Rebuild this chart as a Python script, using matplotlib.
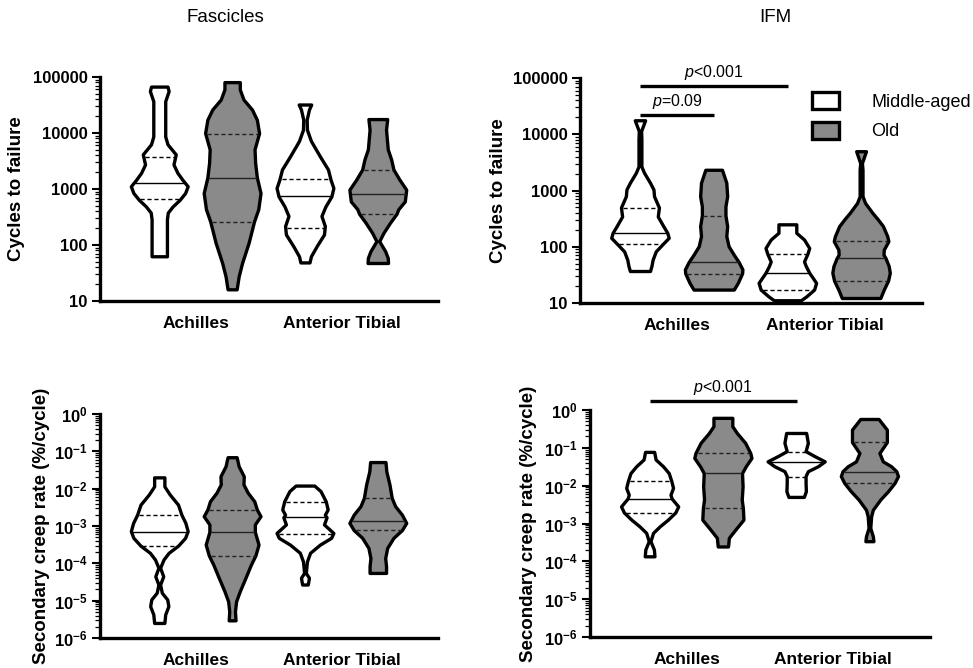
import numpy as np
from matplotlib import pyplot as plt
from matplotlib.patches import Patch
from matplotlib.ticker import LogLocator, NullFormatter

plt.rcParams['font.family'] = ['Liberation Sans', 'DejaVu Sans']
plt.rcParams['mathtext.fontset'] = 'custom'
plt.rcParams['mathtext.rm'] = 'Liberation Sans'
plt.rcParams['mathtext.it'] = 'Liberation Sans:italic'
plt.rcParams['mathtext.bf'] = 'Liberation Sans:bold'

categories = ['Achilles', 'Anterior Tibial']
ages = ['Middle-aged', 'Old']

# violin outlines: (log10 value, relative half-width), top to bottom
# order in each panel: Achilles middle-aged, Achilles old, AT middle-aged, AT old
fas_cyc_ach_ma = [(4.82, 0.29), (4.74, 0.33), (4.56, 0.21), (3.93, 0.21), (3.79, 0.29), (3.61, 0.58),
                  (3.43, 0.50), (3.28, 0.64), (3.16, 0.81), (3.04, 1.00), (2.92, 0.91), (2.80, 0.72),
                  (2.68, 0.47), (2.57, 0.30), (2.45, 0.27), (1.79, 0.27)]
fas_cyc_ach_old = [(4.90, 0.27), (4.77, 0.27), (4.59, 0.40), (4.41, 0.70), (4.23, 0.87), (3.99, 0.95),
                   (3.70, 0.79), (3.46, 0.81), (3.20, 0.87), (2.92, 1.00), (2.63, 0.92), (2.41, 0.77),
                   (2.03, 0.58), (1.67, 0.35), (1.43, 0.23), (1.20, 0.16)]
fas_cyc_at_ma = [(4.50, 0.22), (4.41, 0.14), (4.23, 0.06), (4.05, 0.07), (3.85, 0.21), (3.58, 0.52),
                 (3.34, 0.81), (3.16, 0.90), (3.01, 1.00), (2.86, 0.93), (2.68, 0.72), (2.51, 0.58),
                 (2.33, 0.70), (2.18, 0.67), (1.97, 0.41), (1.79, 0.21), (1.68, 0.16)]
fas_cyc_at_old = [(4.24, 0.33), (4.05, 0.29), (3.70, 0.35), (3.52, 0.47), (3.34, 0.55), (3.16, 0.76),
                  (2.98, 1.00), (2.77, 0.95), (2.63, 0.72), (2.55, 0.66), (2.39, 0.43), (2.21, 0.20),
                  (2.06, 0.05), (1.88, 0.26), (1.76, 0.35), (1.67, 0.36)]

ifm_cyc_ach_ma = [(4.24, 0.18), (4.05, 0.04), (3.90, 0.05), (3.42, 0.05), (3.31, 0.14), (3.13, 0.35),
                  (3.01, 0.47), (2.89, 0.49), (2.69, 0.66), (2.53, 0.62), (2.36, 0.81), (2.24, 0.95),
                  (2.15, 1.00), (2.05, 0.81), (1.91, 0.55), (1.76, 0.44), (1.65, 0.40), (1.56, 0.35)]
ifm_cyc_ach_old = [(3.36, 0.29), (3.13, 0.44), (2.89, 0.47), (2.71, 0.41), (2.55, 0.41), (2.36, 0.47),
                   (2.18, 0.44), (2.00, 0.52), (1.85, 0.70), (1.72, 0.87), (1.59, 1.00), (1.52, 0.99),
                   (1.35, 0.84), (1.23, 0.70)]
ifm_cyc_at_ma = [(2.39, 0.31), (2.24, 0.31), (2.12, 0.58), (1.97, 0.76), (1.87, 0.70), (1.73, 0.58),
                 (1.65, 0.64), (1.53, 0.76), (1.35, 1.00), (1.23, 0.93), (1.11, 0.66), (1.04, 0.47)]
ifm_cyc_at_old = [(3.69, 0.17), (3.48, 0.03), (3.36, 0.05), (2.89, 0.05), (2.77, 0.14), (2.59, 0.40),
                  (2.48, 0.58), (2.36, 0.76), (2.18, 0.91), (2.09, 0.95), (1.94, 0.79), (1.85, 0.78),
                  (1.79, 0.85), (1.65, 0.96), (1.53, 1.00), (1.39, 0.94), (1.23, 0.79), (1.08, 0.67)]

fas_crp_ach_ma = [(-1.71, 0.18), (-1.95, 0.18), (-2.17, 0.37), (-2.44, 0.66), (-2.71, 0.78), (-2.93, 0.92),
                  (-3.15, 1.00), (-3.33, 0.91), (-3.54, 0.66), (-3.73, 0.33), (-3.91, 0.15), (-4.13, 0.03),
                  (-4.36, 0.14), (-4.58, 0.03), (-4.80, 0.09), (-4.98, 0.28), (-5.16, 0.32), (-5.38, 0.21),
                  (-5.61, 0.18)]
fas_crp_ach_old = [(-1.17, 0.16), (-1.41, 0.23), (-1.68, 0.41), (-1.90, 0.40), (-2.12, 0.55), (-2.35, 0.78),
                   (-2.57, 0.87), (-2.75, 1.00), (-2.97, 0.80), (-3.17, 0.80), (-3.51, 0.93), (-3.80, 0.82),
                   (-4.05, 0.66), (-4.40, 0.47), (-4.76, 0.27), (-5.03, 0.14), (-5.30, 0.10), (-5.54, 0.12)]
fas_crp_at_ma = [(-1.93, 0.33), (-2.08, 0.55), (-2.35, 0.73), (-2.57, 0.80), (-2.71, 0.70), (-2.78, 0.76),
                 (-2.97, 0.67), (-3.20, 1.00), (-3.33, 0.92), (-3.51, 0.53), (-3.73, 0.18), (-3.96, 0.07),
                 (-4.27, 0.03), (-4.40, 0.14), (-4.58, 0.10)]
fas_crp_at_old = [(-1.30, 0.27), (-1.55, 0.30), (-1.90, 0.41), (-2.26, 0.49), (-2.48, 0.61), (-2.71, 0.85),
                  (-2.93, 1.00), (-3.12, 0.85), (-3.33, 0.55), (-3.60, 0.33), (-3.87, 0.26), (-4.09, 0.29),
                  (-4.27, 0.29)]

ifm_crp_ach_ma = [(-1.12, 0.16), (-1.32, 0.21), (-1.50, 0.47), (-1.68, 0.67), (-1.89, 0.76), (-2.07, 0.82),
                  (-2.25, 0.73), (-2.35, 0.77), (-2.56, 1.00), (-2.72, 0.90), (-2.91, 0.64), (-3.09, 0.35),
                  (-3.26, 0.12), (-3.48, 0.03), (-3.70, 0.15), (-3.88, 0.17)]
ifm_crp_ach_old = [(-0.22, 0.33), (-0.44, 0.33), (-0.62, 0.49), (-0.88, 0.78), (-1.15, 0.96), (-1.28, 1.00),
                   (-1.50, 0.80), (-1.68, 0.67), (-2.03, 0.69), (-2.38, 0.66), (-2.61, 0.70), (-2.91, 0.72),
                   (-3.17, 0.44), (-3.39, 0.21), (-3.62, 0.18)]
ifm_crp_at_ma = [(-0.62, 0.35), (-0.88, 0.41), (-1.10, 0.33), (-1.23, 0.64), (-1.37, 1.00), (-1.50, 0.76),
                 (-1.63, 0.41), (-1.76, 0.33), (-1.94, 0.33), (-2.16, 0.34), (-2.31, 0.27)]
ifm_crp_at_old = [(-0.25, 0.32), (-0.53, 0.61), (-0.86, 0.61), (-1.15, 0.35), (-1.37, 0.47), (-1.50, 0.76),
                  (-1.63, 0.94), (-1.76, 1.00), (-1.94, 0.88), (-2.16, 0.65), (-2.38, 0.38), (-2.65, 0.12),
                  (-2.82, 0.06), (-3.13, 0.03), (-3.35, 0.12), (-3.48, 0.14)]

# quartiles and medians
fas_cyc_q1 = [660, 260, 200, 355]
fas_cyc_med = [1300, 1600, 760, 830]
fas_cyc_q3 = [3800, 9800, 1500, 2200]
ifm_cyc_q1 = [112, 33, 17, 25]
ifm_cyc_med = [175, 53, 34, 62]
ifm_cyc_q3 = [490, 355, 74, 125]
fas_crp_q1 = [2.9e-4, 1.6e-4, 6.3e-4, 7.6e-4]
fas_crp_med = [7.1e-4, 6.8e-4, 1.7e-3, 1.35e-3]
fas_crp_q3 = [1.95e-3, 2.7e-3, 4.5e-3, 5.5e-3]
ifm_crp_q1 = [1.9e-3, 2.5e-3, 1.7e-2, 1.15e-2]
ifm_crp_med = [4.5e-3, 2.1e-2, 4.3e-2, 2.3e-2]
ifm_crp_q3 = [1.3e-2, 7.1e-2, 8.0e-2, 1.4e-1]

HALF = 0.39
GRAY = '#8a8a8a'
LW = 2.4


def draw_violin(ax, pos, profile, q1, med, q3, color):
    levels = np.array([p[0] for p in profile])
    widths = np.array([p[1] for p in profile])
    widths = widths / widths.max() * HALF
    y = 10.0 ** levels
    xs = np.concatenate([pos - widths, (pos + widths)[::-1]])
    ys = np.concatenate([y, y[::-1]])
    ax.fill(xs, ys, facecolor=color, edgecolor='black', linewidth=LW, joinstyle='round', zorder=2)
    line_color = 'black' if color == 'white' else '#222222'
    for v, ls in [(q1, (0, (3, 2))), (med, '-'), (q3, (0, (3, 2)))]:
        w = np.interp(np.log10(v), levels[::-1], widths[::-1]) * 0.94
        ax.plot([pos - w, pos + w], [v, v], color=line_color, lw=1.0, linestyle=ls, zorder=3)


def style_axis(ax, ylim, ticks, ticklabels, ylabel, label_x):
    ax.set_yscale('log')
    ax.set_ylim(*ylim)
    ax.set_xlim(-0.82, 3.82)
    ax.spines['top'].set_visible(False)
    ax.spines['right'].set_visible(False)
    ax.spines['left'].set_linewidth(LW)
    ax.spines['bottom'].set_linewidth(LW)
    ax.set_yticks(ticks)
    ax.set_yticklabels(ticklabels, fontsize=12, fontweight='bold')
    ax.yaxis.set_minor_locator(LogLocator(base=10, subs=np.arange(2, 10), numticks=20))
    ax.yaxis.set_minor_formatter(NullFormatter())
    ax.tick_params(axis='y', which='major', length=6, width=1.5, pad=3)
    ax.tick_params(axis='y', which='minor', length=3.3, width=0.9)
    ax.set_xticks([0.5, 2.5])
    ax.set_xticklabels(categories, fontsize=12.5, fontweight='bold')
    ax.tick_params(axis='x', length=0, pad=11)
    ax.set_ylabel(ylabel, fontsize=13.5, fontweight='bold')
    ax.yaxis.set_label_coords(label_x, 0.5)


def draw_panel(ax, profiles, q1, med, q3):
    colors = ['white', GRAY, 'white', GRAY]
    for i, prof in enumerate(profiles):
        draw_violin(ax, i, prof, q1[i], med[i], q3[i], colors[i])


def sig_bar(ax, x0, x1, h, text):
    ax.plot([x0, x1], [h, h], color='black', lw=LW, clip_on=False, solid_capstyle='butt')
    ax.annotate(text, xy=((x0 + x1) / 2, h), xytext=(0, 10), textcoords='offset points',
                ha='center', va='center', fontsize=11.5, annotation_clip=False)


def main():
    fig = plt.figure(figsize=(9.73, 6.68), dpi=100)
    ax1 = fig.add_axes([0.1028, 0.5494, 0.3474, 0.3353])
    ax2 = fig.add_axes([0.5961, 0.5464, 0.3515, 0.3368])
    ax3 = fig.add_axes([0.1028, 0.0449, 0.3474, 0.3353])
    ax4 = fig.add_axes([0.6064, 0.0464, 0.3494, 0.3398])

    cyc_ticks = [10, 100, 1000, 10000, 100000]
    cyc_labels = ['10', '100', '1000', '10000', '100000']
    crp_ticks = [10.0 ** e for e in range(-6, 1)]
    crp_labels = [r'$\mathbf{10^{%d}}$' % e for e in range(-6, 1)]

    draw_panel(ax1, [fas_cyc_ach_ma, fas_cyc_ach_old, fas_cyc_at_ma, fas_cyc_at_old],
               fas_cyc_q1, fas_cyc_med, fas_cyc_q3)
    draw_panel(ax2, [ifm_cyc_ach_ma, ifm_cyc_ach_old, ifm_cyc_at_ma, ifm_cyc_at_old],
               ifm_cyc_q1, ifm_cyc_med, ifm_cyc_q3)
    draw_panel(ax3, [fas_crp_ach_ma, fas_crp_ach_old, fas_crp_at_ma, fas_crp_at_old],
               fas_crp_q1, fas_crp_med, fas_crp_q3)
    draw_panel(ax4, [ifm_crp_ach_ma, ifm_crp_ach_old, ifm_crp_at_ma, ifm_crp_at_old],
               ifm_crp_q1, ifm_crp_med, ifm_crp_q3)

    style_axis(ax1, (10, 100000), cyc_ticks, cyc_labels, 'Cycles to failure', -0.222)
    style_axis(ax2, (10, 100000), cyc_ticks, cyc_labels, 'Cycles to failure', -0.213)
    style_axis(ax3, (1e-6, 1), crp_ticks, crp_labels, 'Secondary creep rate (%/cycle)', -0.148)
    style_axis(ax4, (1e-6, 1), crp_ticks, crp_labels, 'Secondary creep rate (%/cycle)', -0.156)

    sig_bar(ax2, 0, 2, 72000, r'$\mathit{p}$<0.001')
    sig_bar(ax2, 0, 1, 22000, r'$\mathit{p}$=0.09')
    sig_bar(ax4, 0, 2, 1.73, r'$\mathit{p}$<0.001')

    handles = [Patch(facecolor='white', edgecolor='black', linewidth=LW),
               Patch(facecolor=GRAY, edgecolor='black', linewidth=LW)]
    ax2.legend(handles=handles, labels=ages, loc='upper left', bbox_to_anchor=(812 / 973, 1 - 92 / 668),
               bbox_transform=fig.transFigure, frameon=False, fontsize=13, handlelength=1.5,
               handleheight=1.1, handletextpad=1.8, labelspacing=0.6, borderpad=0, borderaxespad=0)

    fig.text(225 / 973, 1 - 18 / 668, 'Fascicles', ha='center', va='center', fontsize=13.5)
    fig.text(775 / 973, 1 - 18 / 668, 'IFM', ha='center', va='center', fontsize=13.5)

    fig.savefig('out.png', dpi=100)


if __name__ == '__main__':
    main()
